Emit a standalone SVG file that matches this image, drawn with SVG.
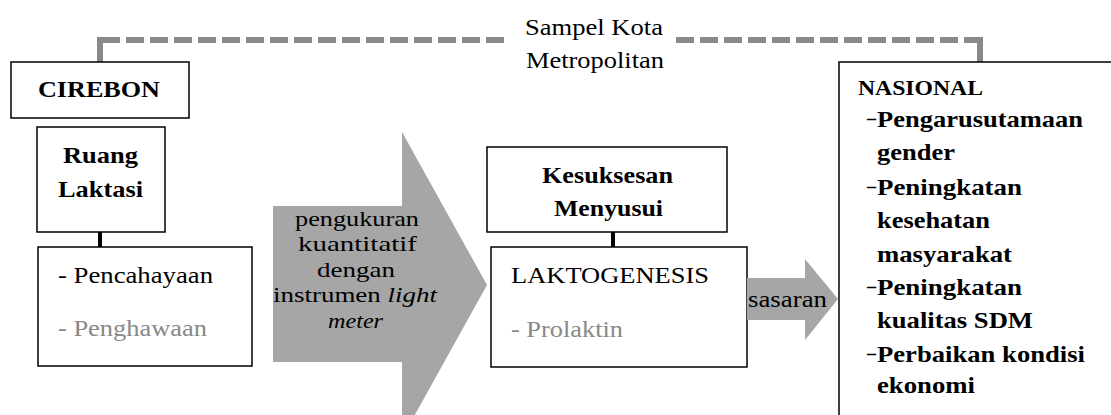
<svg xmlns="http://www.w3.org/2000/svg" width="1111" height="415" viewBox="0 0 1111 415">
<style>
text{font-family:"Times New Roman",Times,"Liberation Serif","Noto Serif","DejaVu Serif",serif;font-size:23px;fill:#000}
.b{font-weight:bold}
.g{fill:#888888}
.box{fill:#fff;stroke:#000;stroke-width:1.5}
.dash{fill:none;stroke:#898989;stroke-width:6;stroke-dasharray:18 6}
.stub{fill:none;stroke:#898989;stroke-width:6}
.link{stroke:#000;stroke-width:4}
.arrow{fill:#a6a6a6}
.d{font-size:20px;font-weight:bold}
.a{font-size:22px}
</style>
<g id="connectors">
<line class="dash" x1="102" y1="40" x2="505" y2="40"/>
<line class="stub" x1="100" y1="37" x2="100" y2="62"/>
<line class="dash" x1="676" y1="40" x2="977" y2="40"/>
<line class="stub" x1="980" y1="37" x2="980" y2="62"/>
<line class="link" x1="100" y1="232" x2="100" y2="248"/>
<line class="link" x1="613" y1="232" x2="613" y2="248"/>
</g>
<g id="label-sampel">
<text x="525" y="35" textLength="138" lengthAdjust="spacingAndGlyphs">Sampel Kota</text>
<text x="526" y="68" textLength="138" lengthAdjust="spacingAndGlyphs">Metropolitan</text>
</g>
<g id="cirebon">
<rect class="box" x="11" y="62" width="178" height="56"/>
<text x="38" y="97" class="b" textLength="122" lengthAdjust="spacingAndGlyphs">CIREBON</text>
</g>
<g id="ruang-laktasi">
<rect class="box" x="37" y="127" width="128" height="105"/>
<text x="63" y="163" class="b" textLength="75" lengthAdjust="spacingAndGlyphs">Ruang</text>
<text x="58" y="197" class="b" textLength="85" lengthAdjust="spacingAndGlyphs">Laktasi</text>
</g>
<g id="pencahayaan">
<rect class="box" x="38" y="247" width="214" height="119"/>
<text x="58" y="283" textLength="155" lengthAdjust="spacingAndGlyphs">- Pencahayaan</text>
<text x="58" y="336" class="g" textLength="149" lengthAdjust="spacingAndGlyphs">- Penghawaan</text>
</g>
<g id="arrow-pengukuran">
<polygon class="arrow" points="273,206 402,206 402,132 487,285 402,438 402,362 273,362"/>
<text x="295" y="226" class="a" textLength="124" lengthAdjust="spacingAndGlyphs">pengukuran</text>
<text x="298" y="251" class="a" textLength="119" lengthAdjust="spacingAndGlyphs">kuantitatif</text>
<text x="317" y="277" class="a" textLength="78" lengthAdjust="spacingAndGlyphs">dengan</text>
<text x="273" y="302" class="a" textLength="164" lengthAdjust="spacingAndGlyphs">instrumen <tspan font-style="italic">light</tspan></text>
<text x="328" y="328" class="a" font-style="italic" textLength="55" lengthAdjust="spacingAndGlyphs">meter</text>
</g>
<g id="kesuksesan">
<rect class="box" x="487" y="147" width="240" height="85"/>
<text x="542" y="183" class="b" textLength="131" lengthAdjust="spacingAndGlyphs">Kesuksesan</text>
<text x="554" y="216" class="b" textLength="109" lengthAdjust="spacingAndGlyphs">Menyusui</text>
</g>
<g id="laktogenesis">
<rect class="box" x="491" y="247" width="256" height="120"/>
<text x="511" y="283" textLength="198" lengthAdjust="spacingAndGlyphs">LAKTOGENESIS</text>
<text x="511" y="337" class="g" textLength="112" lengthAdjust="spacingAndGlyphs">- Prolaktin</text>
</g>
<g id="arrow-sasaran">
<polygon class="arrow" points="747,278 805,278 805,259 838,299 805,340 805,320 747,320"/>
<text x="748" y="307" textLength="79" lengthAdjust="spacingAndGlyphs">sasaran</text>
</g>
<g id="nasional">
<rect class="box" x="839" y="62" width="300" height="400"/>
<text x="858" y="95" class="b" style="font-size:20px" textLength="125" lengthAdjust="spacingAndGlyphs">NASIONAL</text>
<text x="867" y="125" class="d" textLength="9" lengthAdjust="spacingAndGlyphs">–</text>
<text x="877" y="127" class="b" textLength="206" lengthAdjust="spacingAndGlyphs">Pengarusutamaan</text>
<text x="877" y="160" class="b" textLength="78" lengthAdjust="spacingAndGlyphs">gender</text>
<text x="867" y="193" class="d" textLength="9" lengthAdjust="spacingAndGlyphs">–</text>
<text x="877" y="195" class="b" textLength="145" lengthAdjust="spacingAndGlyphs">Peningkatan</text>
<text x="877" y="228" class="b" textLength="113" lengthAdjust="spacingAndGlyphs">kesehatan</text>
<text x="877" y="262" class="b" textLength="135" lengthAdjust="spacingAndGlyphs">masyarakat</text>
<text x="867" y="293" class="d" textLength="9" lengthAdjust="spacingAndGlyphs">–</text>
<text x="877" y="295" class="b" textLength="145" lengthAdjust="spacingAndGlyphs">Peningkatan</text>
<text x="877" y="328" class="b" textLength="156" lengthAdjust="spacingAndGlyphs">kualitas SDM</text>
<text x="867" y="360" class="d" textLength="9" lengthAdjust="spacingAndGlyphs">–</text>
<text x="877" y="362" class="b" textLength="208" lengthAdjust="spacingAndGlyphs">Perbaikan kondisi</text>
<text x="877" y="393" class="b" textLength="98" lengthAdjust="spacingAndGlyphs">ekonomi</text>
</g>
</svg>
